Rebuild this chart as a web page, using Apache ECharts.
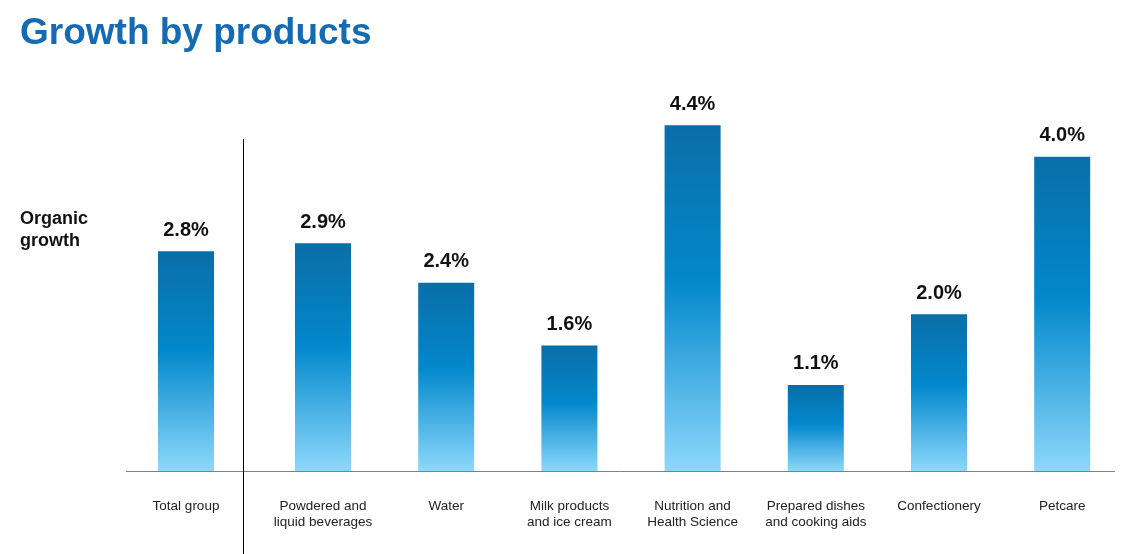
<!DOCTYPE html>
<html>
<head>
<meta charset="utf-8">
<script src="https://cdn.jsdelivr.net/npm/echarts@6/dist/echarts.min.js"></script>
<style>
html,body{margin:0;padding:0;background:#fff;}
#chart{width:1133px;height:554px;}
</style>
</head>
<body>
<div id="chart"></div>
<script>
// ---- data ----
var totalCategory = ['Total group'];
var totalValues = [2.8];
var productCategories = [
  'Powdered and\nliquid beverages',
  'Water',
  'Milk products\nand ice cream',
  'Nutrition and\nHealth Science',
  'Prepared dishes\nand cooking aids',
  'Confectionery',
  'Petcare'
];
var productValues = [2.9, 2.4, 1.6, 4.4, 1.1, 2.0, 4.0];

var FONT = '"Liberation Sans", Arial, Helvetica, sans-serif';

function barGradient() {
  return new echarts.graphic.LinearGradient(0, 0, 0, 1, [
    {offset: 0, color: '#0a6ea8'},
    {offset: 0.45, color: '#0288cc'},
    {offset: 1, color: '#8ed8fb'}
  ]);
}

var labelCfg = {
  show: true,
  position: 'top',
  distance: 11,
  color: '#111',
  fontFamily: FONT,
  fontWeight: 'bold',
  fontSize: 20,
  formatter: function (p) { return p.value.toFixed(1) + '%'; }
};

var axisLabelCfg = {
  color: '#222',
  fontFamily: FONT,
  fontSize: 13.5,
  lineHeight: 16,
  margin: 27,
  interval: 0
};

var chart = echarts.init(document.getElementById('chart'), null, {renderer: 'canvas'});
chart.setOption({
  animation: false,
  backgroundColor: '#fff',
  title: [
    {
      text: 'Growth by products',
      left: 15, top: 10,
      textStyle: {color: '#156bb3', fontFamily: FONT, fontWeight: 'bold', fontSize: 37}
    },
    {
      text: 'Organic\ngrowth',
      left: 15, top: 203,
      textStyle: {color: '#111', fontFamily: FONT, fontWeight: 'bold', fontSize: 18, lineHeight: 22}
    }
  ],
  grid: [
    {left: 128, width: 116, top: 78.1, bottom: 82.5},
    {left: 261.4, width: 862.4, top: 78.1, bottom: 82.5}
  ],
  xAxis: [
    {type: 'category', gridIndex: 0, data: totalCategory,
     axisLine: {show: false}, axisTick: {show: false}, axisLabel: axisLabelCfg},
    {type: 'category', gridIndex: 1, data: productCategories,
     axisLine: {show: false}, axisTick: {show: false}, axisLabel: axisLabelCfg}
  ],
  yAxis: [
    {type: 'value', gridIndex: 0, min: 0, max: 5, show: false},
    {type: 'value', gridIndex: 1, min: 0, max: 5, show: false}
  ],
  series: [
    {type: 'bar', xAxisIndex: 0, yAxisIndex: 0, data: totalValues, barWidth: 56,
     itemStyle: {color: barGradient()}, label: labelCfg},
    {type: 'bar', xAxisIndex: 1, yAxisIndex: 1, data: productValues, barWidth: 56,
     itemStyle: {color: barGradient()}, label: labelCfg}
  ],
  graphic: [
    {type: 'line', z: 10, shape: {x1: 126, y1: 471.5, x2: 1115, y2: 471.5},
     style: {stroke: '#808080', lineWidth: 1}},
    {type: 'line', z: 10, shape: {x1: 243.5, y1: 139, x2: 243.5, y2: 554},
     style: {stroke: '#000', lineWidth: 1}}
  ]
});
</script>
</body>
</html>
